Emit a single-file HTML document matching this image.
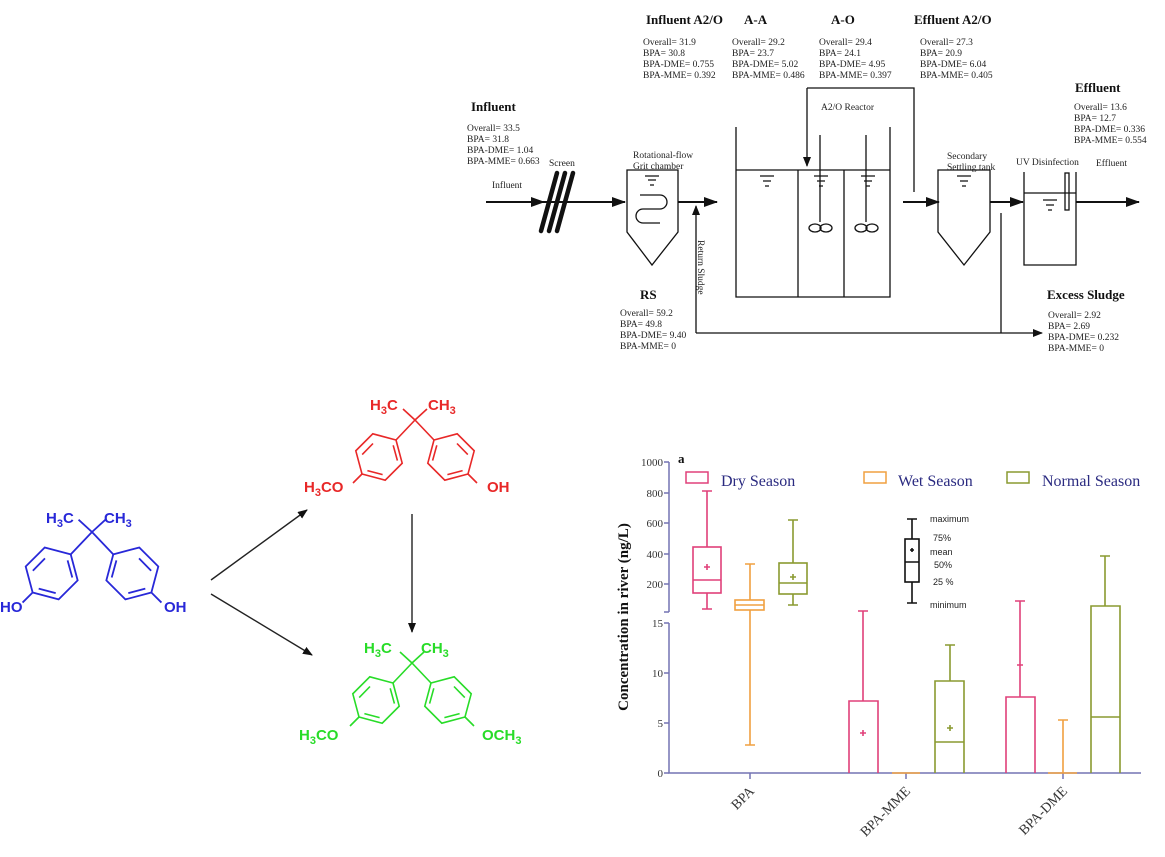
<!DOCTYPE html>
<html><head><meta charset="utf-8"><style>
html,body{margin:0;padding:0;background:#fff}
svg{display:block}
.s{font-family:"Liberation Serif",serif;font-size:9.5px;fill:#222}
.h{font-family:"Liberation Serif",serif;font-size:13px;font-weight:bold;fill:#111}
.m{font-family:"Liberation Sans",sans-serif;font-size:15px;font-weight:bold}
.t{font-family:"Liberation Serif",serif;font-size:11px;fill:#333}
.lg{font-family:"Liberation Sans",sans-serif;font-size:9px;fill:#222}
.leg{font-family:"Liberation Serif",serif;font-size:16px;fill:#2a2a80}
</style></head><body>
<svg width="1165" height="857" viewBox="0 0 1165 857" xmlns="http://www.w3.org/2000/svg">
<defs>
<marker id="ar" markerWidth="10" markerHeight="8" refX="9" refY="4" orient="auto" markerUnits="userSpaceOnUse"><path d="M0,0 L10,4 L0,8z" fill="#111"/></marker>
<marker id="ar2" markerWidth="14" markerHeight="10" refX="13" refY="5" orient="auto" markerUnits="userSpaceOnUse"><path d="M0,0 L14,5 L0,10z" fill="#111"/></marker>
<g id="mol" fill="none" stroke-width="1.6">
<path d="M0,0 L-12,-11 M0,0 L12,-11 M0,0 L-19,20 M0,0 L19,20"/>
<path d="M-19,20 L-12.8,43.2 L-29.8,60.2 L-53,54 L-59.2,30.8 L-42.2,13.8Z"/>
<path d="M-21.8,25.3 L-17.6,40.6 M-32.4,54.6 L-47.6,50.6 M-52.8,34.6 L-42,23.5"/>
<path d="M19,20 L12.8,43.2 L29.8,60.2 L53,54 L59.2,30.8 L42.2,13.8Z"/>
<path d="M21.8,25.3 L17.6,40.6 M32.4,54.6 L47.6,50.6 M52.8,34.6 L42,23.5"/>
<path d="M-53,54 L-62,63 M53,54 L62,63"/>
</g>
</defs>

<!-- ===== Top process diagram ===== -->
<g class="h">
<text x="646" y="24">Influent A2/O</text>
<text x="744" y="24">A-A</text>
<text x="831" y="24">A-O</text>
<text x="914" y="24">Effluent A2/O</text>
<text x="471" y="111">Influent</text>
<text x="1075" y="92">Effluent</text>
<text x="640" y="299">RS</text>
<text x="1047" y="299">Excess Sludge</text>
</g>
<g class="s">
<text x="643" y="45">Overall= 31.9</text><text x="643" y="56">BPA= 30.8</text><text x="643" y="67">BPA-DME= 0.755</text><text x="643" y="78">BPA-MME= 0.392</text>
<text x="732" y="45">Overall= 29.2</text><text x="732" y="56">BPA= 23.7</text><text x="732" y="67">BPA-DME= 5.02</text><text x="732" y="78">BPA-MME= 0.486</text>
<text x="819" y="45">Overall= 29.4</text><text x="819" y="56">BPA= 24.1</text><text x="819" y="67">BPA-DME= 4.95</text><text x="819" y="78">BPA-MME= 0.397</text>
<text x="920" y="45">Overall= 27.3</text><text x="920" y="56">BPA= 20.9</text><text x="920" y="67">BPA-DME= 6.04</text><text x="920" y="78">BPA-MME= 0.405</text>
<text x="467" y="131">Overall= 33.5</text><text x="467" y="142">BPA= 31.8</text><text x="467" y="153">BPA-DME= 1.04</text><text x="467" y="164">BPA-MME= 0.663</text>
<text x="1074" y="110">Overall= 13.6</text><text x="1074" y="121">BPA= 12.7</text><text x="1074" y="132">BPA-DME= 0.336</text><text x="1074" y="143">BPA-MME= 0.554</text>
<text x="620" y="316">Overall= 59.2</text><text x="620" y="327">BPA= 49.8</text><text x="620" y="338">BPA-DME= 9.40</text><text x="620" y="349">BPA-MME= 0</text>
<text x="1048" y="318">Overall= 2.92</text><text x="1048" y="329">BPA= 2.69</text><text x="1048" y="340">BPA-DME= 0.232</text><text x="1048" y="351">BPA-MME= 0</text>
<text x="549" y="166">Screen</text>
<text x="492" y="188">Influent</text>
<text x="633" y="158">Rotational-flow</text>
<text x="633" y="169">Grit chamber</text>
<text x="821" y="110">A2/O Reactor</text>
<text x="947" y="159">Secondary</text>
<text x="947" y="170">Settling tank</text>
<text x="1016" y="165">UV Disinfection</text>
<text x="1096" y="166">Effluent</text>
<text transform="translate(698,240) rotate(90)">Return Sludge</text>
</g>
<g stroke="#111" fill="none" stroke-width="1.3">
<line x1="486" y1="202" x2="544" y2="202" stroke-width="2" marker-end="url(#ar2)"/>
<line x1="544" y1="202" x2="625" y2="202" stroke-width="2" marker-end="url(#ar2)"/>
<line x1="678" y1="202" x2="717" y2="202" stroke-width="2" marker-end="url(#ar2)"/>
<line x1="903" y1="202" x2="939" y2="202" stroke-width="2" marker-end="url(#ar2)"/>
<line x1="990" y1="202" x2="1023" y2="202" stroke-width="2" marker-end="url(#ar2)"/>
<line x1="1076" y1="202" x2="1139" y2="202" stroke-width="2" marker-end="url(#ar2)"/>
<!-- screen -->
<g stroke-width="4.5" stroke-linecap="round"><line x1="557" y1="173" x2="541" y2="231"/><line x1="565" y1="173" x2="549" y2="231"/><line x1="573" y1="173" x2="557" y2="231"/></g>
<!-- grit -->
<path d="M627,170 L678,170 L678,232 L652,265 L627,232 Z"/>
<path d="M645,176h14 M648,180h8 M650,185h4" />
<path d="M640,195 h20 a7,7 0 0 1 0,14 h-17 a7,7 0 0 0 0,14 h17" />
<!-- return sludge -->
<line x1="696" y1="333" x2="696" y2="206" marker-end="url(#ar)"/>
<line x1="696" y1="333" x2="1042" y2="333" marker-end="url(#ar)"/>
<line x1="1001" y1="213" x2="1001" y2="333"/>
<!-- reactor -->
<path d="M736,127 V297 H890 V127 M736,170 H890 M798,170 V297 M844,170 V297"/>
<path d="M760,176h14 M763,181h8 M765,186h4 M814,176h14 M817,181h8 M819,186h4 M861,176h14 M864,181h8 M866,186h4"/>
<path d="M820,135 V222 M866,135 V222"/>
<ellipse cx="815" cy="228" rx="6" ry="4"/><ellipse cx="826" cy="228" rx="6" ry="4"/>
<ellipse cx="861" cy="228" rx="6" ry="4"/><ellipse cx="872" cy="228" rx="6" ry="4"/>
<path d="M807,88 H914 V192"/>
<line x1="807" y1="88" x2="807" y2="166" marker-end="url(#ar)"/>
<!-- settling -->
<path d="M938,170 L990,170 L990,232 L964,265 L938,232 Z"/>
<path d="M957,176h14 M960,181h8 M962,186h4"/>
<!-- UV -->
<path d="M1024,172 V265 H1076 V172 M1024,193 H1076"/>
<path d="M1043,200h14 M1046,205h8 M1048,210h4"/>
<rect x="1065" y="173" width="4" height="37"/>
</g>

<!-- ===== Molecules ===== -->
<g stroke="#2828d8" transform="translate(92,532) scale(1.12)"><use href="#mol"/></g>
<g stroke="#e82828" transform="translate(415,420)"><use href="#mol"/></g>
<g stroke="#28dc28" transform="translate(412,663)"><use href="#mol"/></g>
<g class="m" fill="#2828d8">
<text x="46" y="523">H<tspan font-size="11" dy="4">3</tspan><tspan dy="-4">C</tspan></text>
<text x="104" y="523">CH<tspan font-size="11" dy="4">3</tspan></text>
<text x="0" y="612">HO</text><text x="164" y="612">OH</text>
</g>
<g class="m" fill="#e82828">
<text x="370" y="410">H<tspan font-size="11" dy="4">3</tspan><tspan dy="-4">C</tspan></text>
<text x="428" y="410">CH<tspan font-size="11" dy="4">3</tspan></text>
<text x="304" y="492">H<tspan font-size="11" dy="4">3</tspan><tspan dy="-4">CO</tspan></text><text x="487" y="492">OH</text>
</g>
<g class="m" fill="#28dc28">
<text x="364" y="653">H<tspan font-size="11" dy="4">3</tspan><tspan dy="-4">C</tspan></text>
<text x="421" y="653">CH<tspan font-size="11" dy="4">3</tspan></text>
<text x="299" y="740">H<tspan font-size="11" dy="4">3</tspan><tspan dy="-4">CO</tspan></text>
<text x="482" y="740">OCH<tspan font-size="11" dy="4">3</tspan></text>
</g>
<g stroke="#222" stroke-width="1.4">
<line x1="211" y1="580" x2="307" y2="510" marker-end="url(#ar)"/>
<line x1="211" y1="594" x2="312" y2="655" marker-end="url(#ar)"/>
<line x1="412" y1="514" x2="412" y2="632" marker-end="url(#ar)"/>
</g>

<!-- ===== Chart ===== -->
<g stroke="#7474b4" stroke-width="1.5" fill="none">
<path d="M669,462 V612 M669,623 V773 H1141"/>
<path d="M664,462h5 M664,493h5 M664,523h5 M664,554h5 M664,584h5 M664,612h5 M664,623h5 M664,673h5 M664,723h5 M664,773h5"/>
<path d="M750,773v6 M906,773v6 M1063,773v6"/>
</g>
<g class="t" text-anchor="end">
<text x="663" y="466">1000</text><text x="663" y="497">800</text><text x="663" y="527">600</text><text x="663" y="558">400</text><text x="663" y="588">200</text>
<text x="663" y="627">15</text><text x="663" y="677">10</text><text x="663" y="727">5</text><text x="663" y="777">0</text>
</g>
<text x="678" y="463" class="h" font-size="14">a</text>
<text transform="translate(628,617) rotate(-90)" text-anchor="middle" font-family="Liberation Serif,serif" font-weight="bold" font-size="15" fill="#111">Concentration in river (ng/L)</text>
<g font-family="Liberation Serif,serif" font-size="14" fill="#333" text-anchor="end">
<text transform="translate(755,792) rotate(-45)">BPA</text>
<text transform="translate(911,792) rotate(-45)">BPA-MME</text>
<text transform="translate(1068,792) rotate(-45)">BPA-DME</text>
</g>
<!-- legend -->
<g fill="none" stroke-width="1.5">
<rect x="686" y="472" width="22" height="11" stroke="#e0407a"/>
<rect x="864" y="472" width="22" height="11" stroke="#f0a040"/>
<rect x="1007" y="472" width="22" height="11" stroke="#8a9a30"/>
</g>
<text x="721" y="486" class="leg">Dry Season</text>
<text x="898" y="486" class="leg">Wet Season</text>
<text x="1042" y="486" class="leg">Normal Season</text>
<!-- boxes dry -->
<g stroke="#e0407a" stroke-width="1.6" fill="none">
<rect x="693" y="547" width="28" height="46"/><path d="M693,580h28 M707,547V491 M702,491h10 M707,593V609 M702,609h10 M704,567h6 M707,564v6"/>
<path d="M849,773V701H878V773 M863,701V611 M858,611h10 M860,733h6 M863,730v6"/>
<path d="M1006,773V697H1035V773 M1020,697V601 M1015,601h10 M1017,665h6 M1020,662v6"/>
</g>
<g stroke="#f0a040" stroke-width="1.6" fill="none">
<rect x="735" y="600" width="29" height="10"/><path d="M735,605h29 M750,600V564 M745,564h10 M750,610V745 M745,745h10"/>
<path d="M892,773h28"/>
<path d="M1048,773h29 M1063,773V720 M1058,720h10"/>
</g>
<g stroke="#8a9a30" stroke-width="1.6" fill="none">
<rect x="779" y="563" width="28" height="31"/><path d="M779,583h28 M793,563V520 M788,520h10 M793,594V605 M788,605h10 M790,577h6 M793,574v6"/>
<path d="M935,773V681H964V773 M935,742h29 M950,681V645 M945,645h10 M947,728h6 M950,725v6"/>
<path d="M1091,773V606H1120V773 M1091,717h29 M1105,606V556 M1100,556h10 M1102,606h6"/>
</g>
<g stroke="#111" stroke-width="1.6" fill="none">
<rect x="905" y="539" width="14" height="43"/><path d="M905,562h14 M912,539V519 M907,519h10 M912,582V603 M907,603h10 M910,550h4 M912,548v4"/>
</g>
<g class="lg">
<text x="930" y="522">maximum</text><text x="933" y="541">75%</text><text x="930" y="555">mean</text><text x="934" y="568">50%</text><text x="933" y="585">25 %</text><text x="930" y="608">minimum</text>
</g>
</svg>
</body></html>
